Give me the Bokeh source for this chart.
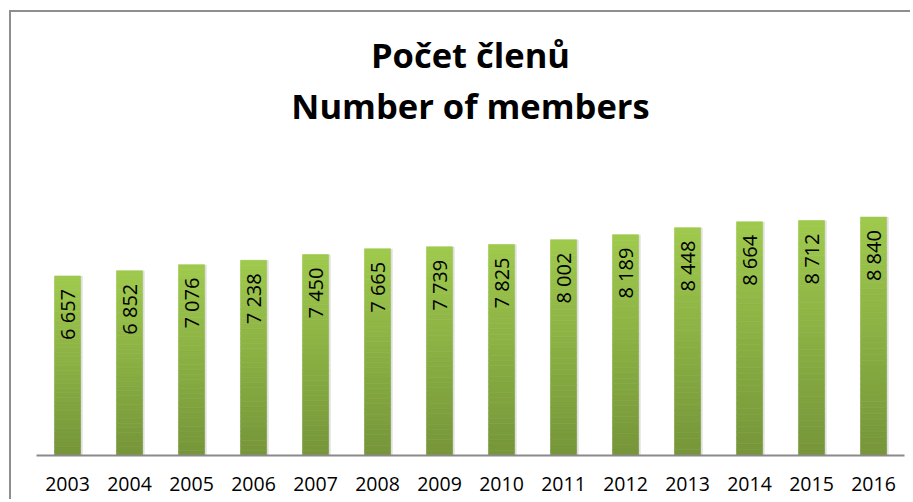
from bokeh.plotting import figure
from bokeh.models import ColumnDataSource, Range1d, FactorRange, Title
from bokeh.transform import dodge
from bokeh.core.properties import value
from bokeh.embed import file_html
from bokeh.resources import INLINE

# ---- data ----
years = ["2003", "2004", "2005", "2006", "2007", "2008", "2009",
         "2010", "2011", "2012", "2013", "2014", "2015", "2016"]
members = [6657, 6852, 7076, 7238, 7450, 7665, 7739,
           7825, 8002, 8189, 8448, 8664, 8712, 8840]
title_cz = "Počet členů"
title_en = "Number of members"

labels = [f"{v:,}".replace(",", " ") for v in members]

# ---- styles ----
Y_MAX = 12050
BAR_W = 0.42
TOP_RGB = (0x9F, 0xCA, 0x4D)
BOT_RGB = (0x75, 0x95, 0x39)
N_SLICES = 40
FONT = "Open Sans"

p = figure(width=901, height=489, x_range=FactorRange(*years),
           y_range=Range1d(0, Y_MAX), output_backend="svg",
           toolbar_location=None, y_axis_location=None,
           min_border_left=25, min_border_right=8,
           min_border_top=118, min_border_bottom=46)
p.outline_line_color = None
p.xgrid.grid_line_color = None
p.ygrid.grid_line_color = None
p.styles = {"margin-left": "9px", "margin-top": "10px",
            "border-left": "2px solid #8e8e8e",
            "border-top": "2px solid #8e8e8e"}

t_en = Title(text=title_en, align="center", text_font_size="34.5px",
             text_font=FONT, text_font_style="bold", text_color="black",
             standoff=4)
t_cz = Title(text=title_cz, align="center", text_font_size="34.5px",
             text_font=FONT, text_font_style="bold", text_color="black",
             standoff=0)
p.add_layout(t_en, "above")
p.add_layout(t_cz, "above")

# shadow
p.vbar(x=dodge("year", 0.035, range=p.x_range), top="v", width=BAR_W,
       source=ColumnDataSource(dict(year=years, v=members)),
       fill_color="#000000", fill_alpha=0.12, line_color=None)

# gradient bars built from stacked slices of each value
xs, bots, tops, cols = [], [], [], []
for y, v in zip(years, members):
    for k in range(N_SLICES):
        t = (k + 0.5) / N_SLICES
        r, g, b = (int(round(BOT_RGB[i] + (TOP_RGB[i] - BOT_RGB[i]) * t)) for i in range(3))
        xs.append(y)
        bots.append(v * k / N_SLICES)
        tops.append(v * (k + 1) / N_SLICES)
        cols.append(f"#{r:02x}{g:02x}{b:02x}")
p.vbar(x="x", bottom="b", top="t", width=BAR_W, fill_color="c", line_color="c",
       line_width=0.6, source=ColumnDataSource(dict(x=xs, b=bots, t=tops, c=cols)))

# value labels
p.text(x="year", y="v", text="lab", angle=1.5707963, text_align="right",
       text_baseline="middle", y_offset=13, text_font=value(FONT),
       text_font_size="20px", text_color="black",
       source=ColumnDataSource(dict(year=years, v=members, lab=labels)))

ax = p.xaxis[0]
ax.axis_line_color = "#8a8a8a"
ax.axis_line_width = 2
ax.major_tick_line_color = None
ax.minor_tick_line_color = None
ax.major_tick_out = 0
ax.major_tick_in = 0
ax.major_label_standoff = 21
ax.major_label_text_font = FONT
ax.major_label_text_font_size = "19.5px"
ax.major_label_text_color = "black"

open("out.html", "w").write(file_html(p, INLINE))
